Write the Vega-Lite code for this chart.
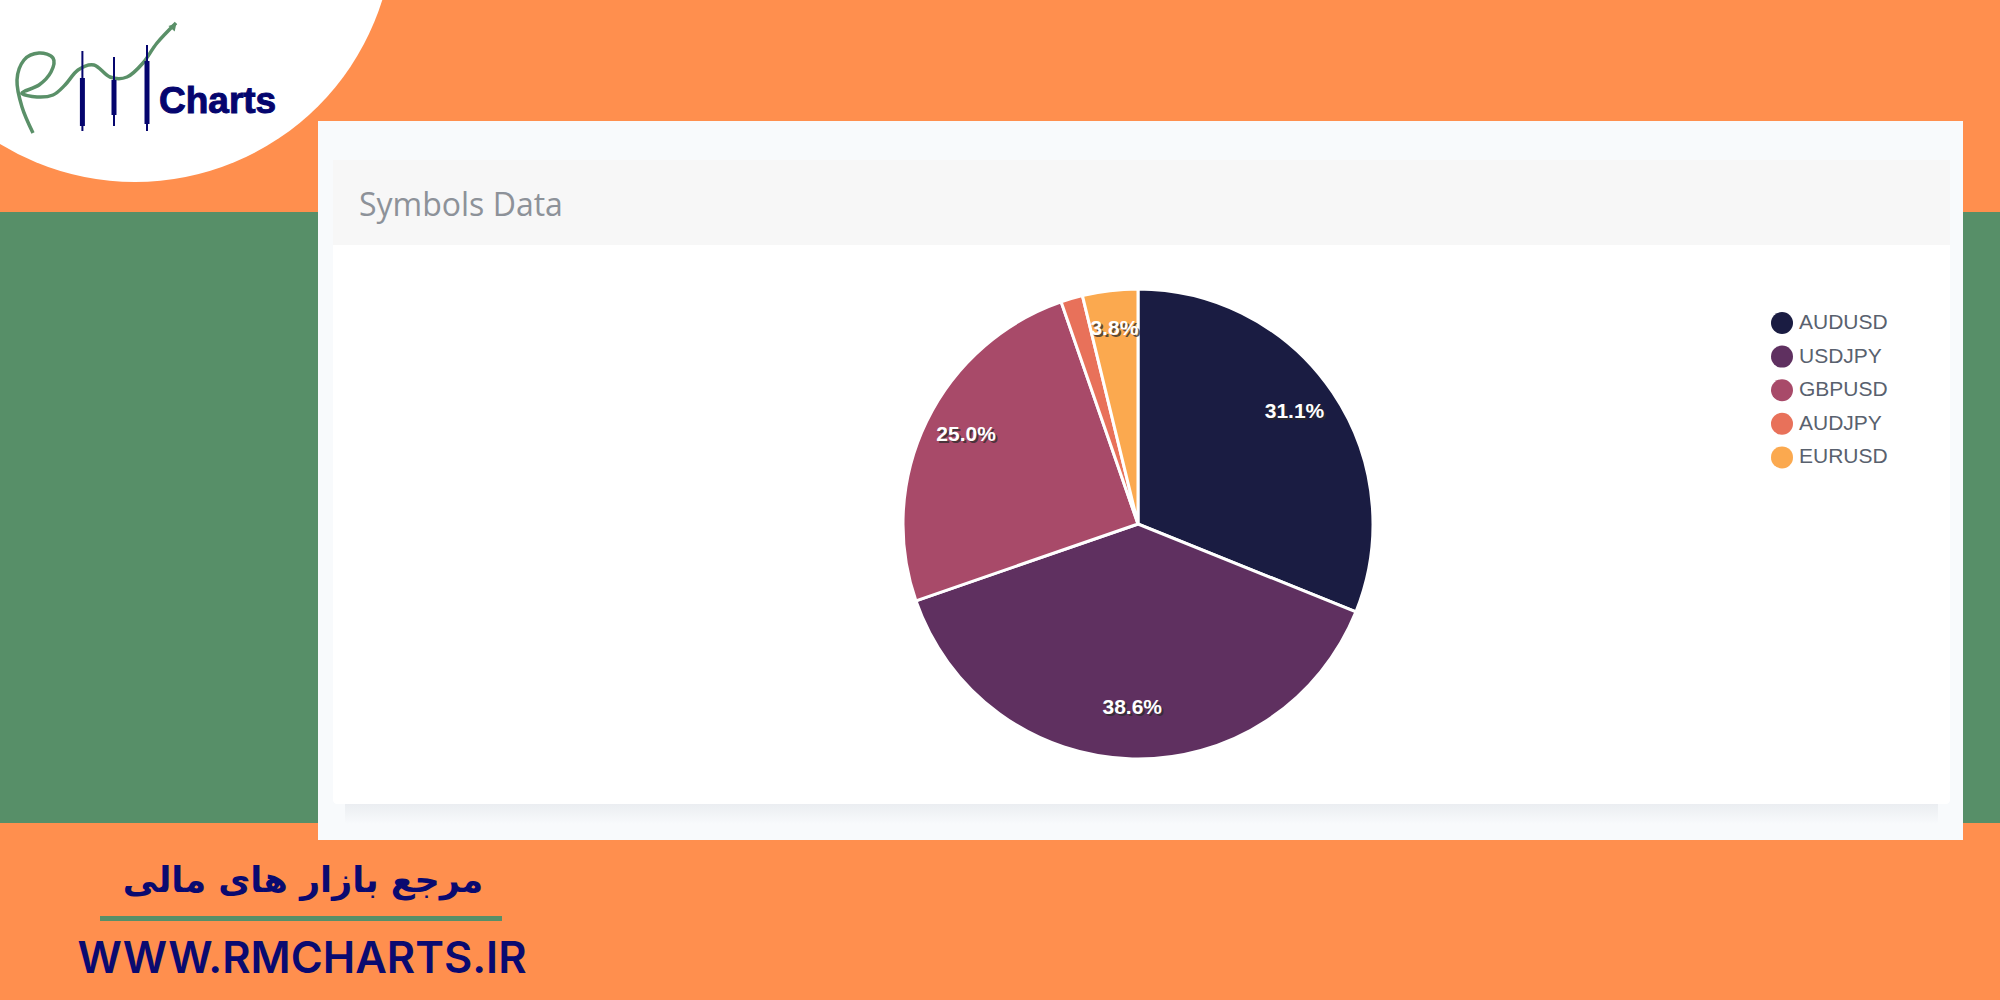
{
  "$schema": "https://vega.github.io/schema/vega-lite/v6.json",
  "width": 2000,
  "height": 1000,
  "padding": 0,
  "autosize": {"type": "none"},
  "background": "#ff8f4e",
  "data": {
    "values": [
      {"symbol": "AUDUSD", "share": 31.1, "label": "31.1%", "rank": 1},
      {"symbol": "USDJPY", "share": 38.6, "label": "38.6%", "rank": 2},
      {"symbol": "GBPUSD", "share": 25.0, "label": "25.0%", "rank": 3},
      {"symbol": "AUDJPY", "share": 1.5, "label": "", "rank": 4},
      {"symbol": "EURUSD", "share": 3.8, "label": "3.8%", "rank": 5}
    ]
  },
  "layer": [
    {
      "data": {"values": [{"part": "band"}]},
      "mark": {"type": "rect", "color": "#578f68"},
      "encoding": {
        "x": {"datum": 0, "type": "quantitative", "scale": {"domain": [0, 2000]}},
        "x2": {"datum": 2000},
        "y": {"datum": 212, "type": "quantitative", "scale": {"domain": [1000, 0]}},
        "y2": {"datum": 823}
      }
    },
    {
      "data": {"values": [{"part": "logo disc"}]},
      "mark": {"type": "point", "shape": "circle", "filled": true, "opacity": 1, "color": "#ffffff", "size": 268324, "clip": true},
      "encoding": {
        "x": {"datum": 135, "type": "quantitative"},
        "y": {"datum": -77, "type": "quantitative"}
      }
    },
    {
      "data": {"values": [{"part": "panel"}]},
      "mark": {"type": "rect", "color": "#f8fafc"},
      "encoding": {
        "x": {"datum": 318, "type": "quantitative"},
        "x2": {"datum": 1963},
        "y": {"datum": 121, "type": "quantitative"},
        "y2": {"datum": 840}
      }
    },
    {
      "data": {"values": [{"part": "card shadow"}]},
      "mark": {
        "type": "rect",
        "color": {
          "gradient": "linear", "x1": 0, "y1": 0, "x2": 0, "y2": 1,
          "stops": [{"offset": 0, "color": "#e8ebef"}, {"offset": 1, "color": "#f8fafc"}]
        }
      },
      "encoding": {
        "x": {"datum": 345, "type": "quantitative"},
        "x2": {"datum": 1938},
        "y": {"datum": 800, "type": "quantitative"},
        "y2": {"datum": 824}
      }
    },
    {
      "data": {"values": [{"part": "card"}]},
      "mark": {"type": "rect", "color": "#ffffff", "cornerRadius": 4},
      "encoding": {
        "x": {"datum": 333, "type": "quantitative"},
        "x2": {"datum": 1950},
        "y": {"datum": 160, "type": "quantitative"},
        "y2": {"datum": 804}
      }
    },
    {
      "data": {"values": [{"part": "card header"}]},
      "mark": {"type": "rect", "color": "#f7f7f7"},
      "encoding": {
        "x": {"datum": 333, "type": "quantitative"},
        "x2": {"datum": 1950},
        "y": {"datum": 160, "type": "quantitative"},
        "y2": {"datum": 245}
      }
    },
    {
      "data": {"values": [{"title": "Symbols Data"}]},
      "mark": {"type": "text", "font": "Open Sans", "fontSize": 32, "align": "left", "baseline": "middle", "color": "#8d9299"},
      "encoding": {
        "x": {"datum": 359, "type": "quantitative"},
        "y": {"datum": 206, "type": "quantitative"},
        "text": {"field": "title"}
      }
    },
    {
      "mark": {"type": "arc", "outerRadius": 235, "stroke": "#ffffff", "strokeWidth": 3},
      "encoding": {
        "x": {"datum": 1138, "type": "quantitative"},
        "y": {"datum": 524, "type": "quantitative"},
        "theta": {"field": "share", "type": "quantitative", "stack": true, "scale": {"domain": [0, 100]}},
        "order": {"field": "rank"},
        "color": {
          "field": "symbol",
          "type": "nominal",
          "scale": {
            "domain": ["AUDUSD", "USDJPY", "GBPUSD", "AUDJPY", "EURUSD"],
            "range": ["#1a1c42", "#5f3060", "#a84a69", "#e8715a", "#fba94f"]
          },
          "legend": {
            "title": null,
            "orient": "none",
            "legendX": 1771,
            "legendY": 312,
            "symbolType": "circle",
            "symbolSize": 484,
            "symbolStrokeWidth": 0,
            "symbolOpacity": 1,
            "labelFont": "Liberation Sans",
            "labelFontSize": 21,
            "labelColor": "#59616e",
            "labelOffset": 6,
            "rowPadding": 11.6,
            "padding": 0
          }
        }
      }
    },
    {
      "mark": {"type": "text", "radius": 190, "font": "Liberation Sans", "fontWeight": "bold", "fontSize": 21, "baseline": "middle", "color": "#2b2b2b", "opacity": 0.75, "dx": 1, "dy": -4},
      "encoding": {
        "x": {"datum": 1138, "type": "quantitative"},
        "y": {"datum": 524, "type": "quantitative"},
        "theta": {"field": "share", "type": "quantitative", "stack": true},
        "order": {"field": "rank"},
        "detail": {"field": "symbol"},
        "text": {"field": "label"}
      }
    },
    {
      "mark": {"type": "text", "radius": 190, "font": "Liberation Sans", "fontWeight": "bold", "fontSize": 21, "baseline": "middle", "color": "#ffffff", "dx": -1, "dy": -6},
      "encoding": {
        "x": {"datum": 1138, "type": "quantitative"},
        "y": {"datum": 524, "type": "quantitative"},
        "theta": {"field": "share", "type": "quantitative", "stack": true},
        "order": {"field": "rank"},
        "detail": {"field": "symbol"},
        "text": {"field": "label"}
      }
    },
    {
      "data": {
        "values": [
          {"x": 33, "y": 133, "n": 1},
          {"x": 22, "y": 107, "n": 2},
          {"x": 17, "y": 80, "n": 3},
          {"x": 24, "y": 60, "n": 4},
          {"x": 39, "y": 53, "n": 5},
          {"x": 53, "y": 58, "n": 6},
          {"x": 51, "y": 72, "n": 7},
          {"x": 39, "y": 85, "n": 8},
          {"x": 22, "y": 93, "n": 9},
          {"x": 37, "y": 97, "n": 10},
          {"x": 53, "y": 95, "n": 11},
          {"x": 65, "y": 85, "n": 12},
          {"x": 78, "y": 70, "n": 13},
          {"x": 94, "y": 65, "n": 14},
          {"x": 110, "y": 77, "n": 15},
          {"x": 127, "y": 77, "n": 16},
          {"x": 143, "y": 63, "n": 17},
          {"x": 157, "y": 43, "n": 18},
          {"x": 176, "y": 23, "n": 19}
        ]
      },
      "mark": {"type": "line", "interpolate": "cardinal", "color": "#5a9068", "strokeWidth": 3.5},
      "encoding": {
        "x": {"field": "x", "type": "quantitative"},
        "y": {"field": "y", "type": "quantitative"},
        "order": {"field": "n"}
      }
    },
    {
      "data": {"values": [{"part": "logo arrow"}]},
      "mark": {"type": "point", "shape": "triangle-up", "filled": true, "opacity": 1, "color": "#5a9068", "size": 70, "angle": 42},
      "encoding": {
        "x": {"datum": 174, "type": "quantitative"},
        "y": {"datum": 26, "type": "quantitative"}
      }
    },
    {
      "data": {
        "name": "candles",
        "values": [
          {"x": 82.4, "low": 131, "high": 51, "bottom": 126, "top": 78},
          {"x": 114, "low": 126, "high": 57, "bottom": 115, "top": 80},
          {"x": 147, "low": 131, "high": 45, "bottom": 124, "top": 61}
        ]
      },
      "mark": {"type": "rule", "color": "#05056e", "strokeWidth": 2},
      "encoding": {
        "x": {"field": "x", "type": "quantitative"},
        "y": {"field": "low", "type": "quantitative"},
        "y2": {"field": "high"}
      }
    },
    {
      "data": {"name": "candles"},
      "mark": {"type": "rule", "color": "#05056e", "strokeWidth": 5},
      "encoding": {
        "x": {"field": "x", "type": "quantitative"},
        "y": {"field": "bottom", "type": "quantitative"},
        "y2": {"field": "top"}
      }
    },
    {
      "data": {"values": [{"t": "Charts"}]},
      "mark": {"type": "text", "font": "Liberation Sans", "fontWeight": "bold", "fontSize": 37, "align": "left", "baseline": "alphabetic", "color": "#05056e", "stroke": "#05056e", "strokeWidth": 1},
      "encoding": {
        "x": {"datum": 159, "type": "quantitative"},
        "y": {"datum": 113, "type": "quantitative"},
        "text": {"field": "t"}
      }
    },
    {
      "data": {"values": [{"t": "مرجع بازار های مالی"}]},
      "mark": {"type": "text", "font": "DejaVu Sans", "fontWeight": "bold", "fontSize": 35, "align": "center", "baseline": "middle", "color": "#0a0a70"},
      "encoding": {
        "x": {"datum": 303, "type": "quantitative"},
        "y": {"datum": 881, "type": "quantitative"},
        "text": {"field": "t"}
      }
    },
    {
      "data": {"values": [{"part": "footer rule"}]},
      "mark": {"type": "rect", "color": "#578f68"},
      "encoding": {
        "x": {"datum": 100, "type": "quantitative"},
        "x2": {"datum": 502},
        "y": {"datum": 916, "type": "quantitative"},
        "y2": {"datum": 921}
      }
    },
    {
      "data": {"values": [{"t": "WWW.RMCHARTS.IR"}]},
      "mark": {"type": "text", "font": "Inter", "fontWeight": 600, "fontSize": 43.5, "align": "center", "baseline": "middle", "color": "#0a0a70"},
      "encoding": {
        "x": {"datum": 302, "type": "quantitative"},
        "y": {"datum": 960, "type": "quantitative"},
        "text": {"field": "t"}
      }
    }
  ],
  "config": {
    "view": {"stroke": null},
    "axis": {"disable": true}
  }
}
